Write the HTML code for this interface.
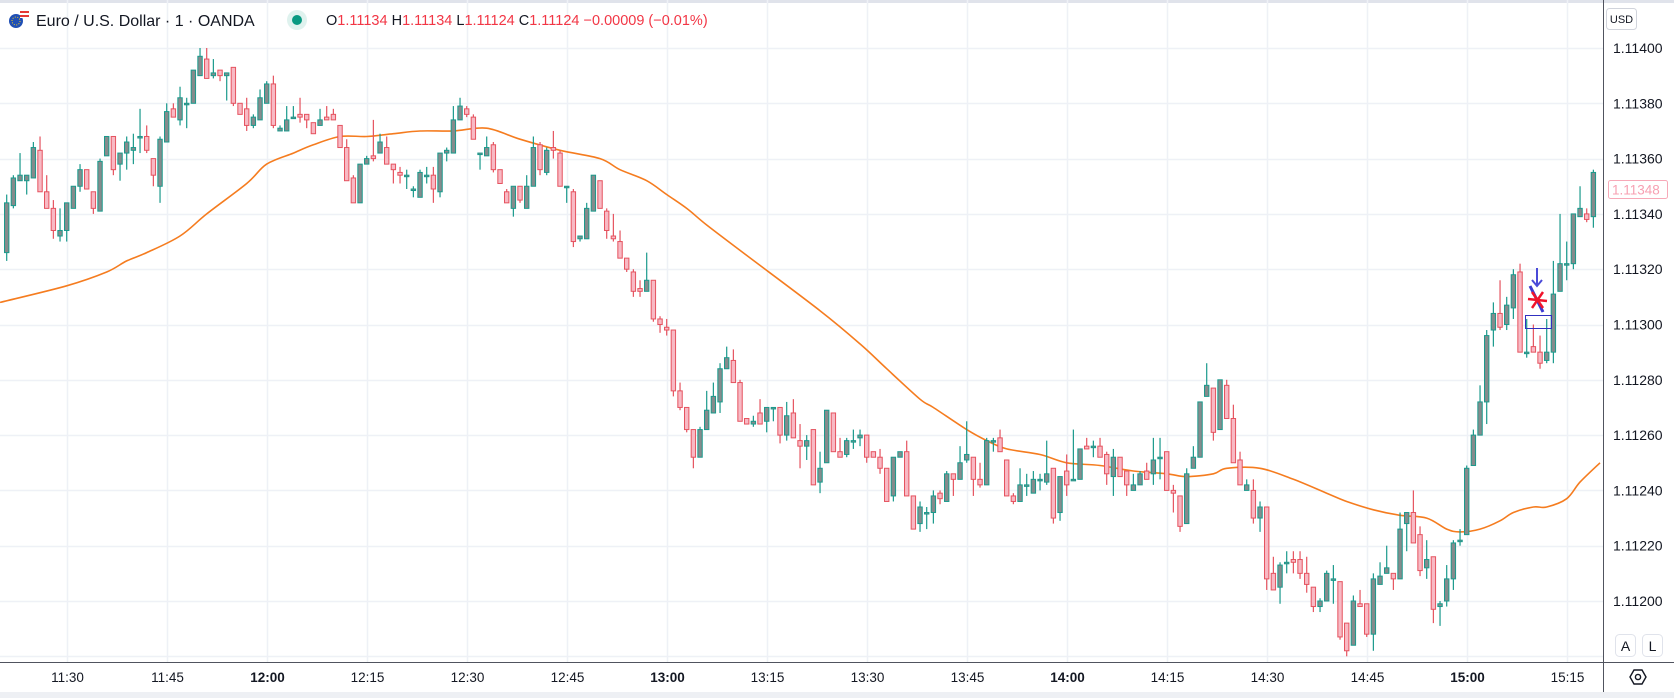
<!DOCTYPE html>
<html>
<head>
<meta charset="utf-8">
<style>
  html,body{margin:0;padding:0;background:#ffffff;}
  body{width:1674px;height:698px;overflow:hidden;font-family:"Liberation Sans",Arial,sans-serif;}
  svg{display:block;}
</style>
</head>
<body>
<svg id="chart" width="1674" height="698" viewBox="0 0 1674 698" xmlns="http://www.w3.org/2000/svg">
  <defs>
    <clipPath id="plotClip"><rect x="0" y="0" width="1603" height="662"/></clipPath>
  </defs>
  <rect x="0" y="0" width="1674" height="698" fill="#ffffff"/>
  <rect x="0" y="0" width="1674" height="3" fill="#e0e3eb"/>
  <g id="grid"></g>
  <g id="plot" clip-path="url(#plotClip)"></g>

  <g>
    <g>
      <circle cx="16" cy="21" r="7" fill="#1f4fb5"/>
      <rect x="20" y="11" width="9" height="7" fill="#ffffff"/>
      <rect x="20" y="11" width="9" height="2" fill="#e53935"/>
      <rect x="20" y="15" width="9" height="2" fill="#e53935"/>
      <circle cx="16" cy="21" r="4" fill="none" stroke="#f5d020" stroke-width="1" stroke-dasharray="1 1.5"/>
    </g>
    <text x="36" y="26" font-size="16" fill="#131722">Euro / U.S. Dollar · 1 · OANDA</text>
    <circle cx="297" cy="20" r="10" fill="#dff2ee"/>
    <circle cx="297" cy="20" r="5" fill="#089981"/>
    <text x="326" y="25" font-size="14.5" fill="#f23645"><tspan fill="#131722">O</tspan>1.11134 <tspan fill="#131722">H</tspan>1.11134 <tspan fill="#131722">L</tspan>1.11124 <tspan fill="#131722">C</tspan>1.11124 −0.00009 (−0.01%)</text>
  </g>

  <line x1="1603.5" y1="0" x2="1603.5" y2="698" stroke="#50535e" stroke-width="1"/>
  <line x1="0" y1="662.5" x2="1674" y2="662.5" stroke="#50535e" stroke-width="1"/>
  <rect x="0" y="692" width="1674" height="6" fill="#eef0f4"/>
  <g id="priceAxis"></g>
  <g id="timeAxis"></g>

  <g>
    <rect x="1606.5" y="8.5" width="30" height="21" rx="3" fill="#ffffff" stroke="#d1d4dc"/>
    <text x="1621.5" y="23" font-size="11" text-anchor="middle" fill="#131722">USD</text>
  </g>
  <g>
    <rect x="1608.5" y="180.5" width="59" height="18" rx="2" fill="#ffffff" stroke="#f7a9b8"/>
    <text x="1612" y="194.5" font-size="13.5" fill="#f7a0b2">1.11348</text>
  </g>
  <g>
    <rect x="1615.5" y="634.5" width="20" height="22" rx="4" fill="#ffffff" stroke="#e0e3eb"/>
    <text x="1625.5" y="651" font-size="14" text-anchor="middle" fill="#131722">A</text>
  </g>
  <g>
    <rect x="1642.5" y="634.5" width="20" height="22" rx="4" fill="#ffffff" stroke="#e0e3eb"/>
    <text x="1652.5" y="651" font-size="14" text-anchor="middle" fill="#131722">L</text>
  </g>
  <g>
    <polygon points="1630,677 1634,670 1642,670 1646,677 1642,684 1634,684" fill="none" stroke="#131722" stroke-width="1.4"/>
    <circle cx="1638" cy="677" r="2.6" fill="none" stroke="#131722" stroke-width="1.4"/>
  </g>

  <g>
    <g>
      <line x1="1537" y1="268" x2="1537" y2="285" stroke="#4a4ad8" stroke-width="2"/>
      <polyline points="1532,280 1537,286 1542,280" fill="none" stroke="#4a4ad8" stroke-width="2"/>
    </g>
    <line x1="1530" y1="286" x2="1543" y2="312" stroke="#3b3bd0" stroke-width="3"/>
    <g stroke="#f0142c" stroke-width="2.5">
      <line x1="1528" y1="299" x2="1547" y2="301"/>
      <line x1="1532" y1="292" x2="1543" y2="308"/>
      <line x1="1543" y1="292" x2="1532" y2="308"/>
    </g>
    <rect x="1525.5" y="315.5" width="26" height="13" fill="none" stroke="#3030c0" stroke-width="1"/>
  </g>
</svg>

<script>
const opens = [
1.11326,1.11343,1.11352,1.11352,1.11353,1.11363,1.11348,1.11342,1.11332,1.11334,
1.11342,1.11350,1.11356,1.11348,1.11341,1.11361,1.11368,1.11358,1.11362,1.11363,
1.11368,1.11368,1.11360,1.11350,1.11366,1.11378,1.11374,1.11380,1.11380,1.11390,
1.11396,1.11390,1.11392,1.11390,1.11393,1.11380,1.11378,1.11372,1.11374,1.11380,
1.11387,1.11370,1.11370,1.11375,1.11376,1.11376,1.11373,1.11372,1.11375,1.11376,
1.11372,1.11364,1.11353,1.11344,1.11358,1.11361,1.11362,1.11364,1.11358,1.11355,
1.11354,1.11349,1.11346,1.11354,1.11354,1.11348,1.11362,1.11362,1.11374,1.11378,
1.11375,1.11362,1.11361,1.11365,1.11356,1.11348,1.11342,1.11350,1.11342,1.11350,
1.11365,1.11355,1.11364,1.11362,1.11350,1.11348,1.11331,1.11331,1.11341,1.11352,
1.11341,1.11332,1.11330,1.11324,1.11319,1.11313,1.11312,1.11316,1.11302,1.11299,
1.11298,1.11276,1.11270,1.11262,1.11252,1.11262,1.11268,1.11272,1.11284,1.11287,
1.11279,1.11266,1.11264,1.11268,1.11265,1.11270,1.11270,1.11260,1.11268,1.11258,
1.11256,1.11262,1.11243,1.11250,1.11268,1.11254,1.11253,1.11258,1.11259,1.11260,
1.11254,1.11252,1.11248,1.11238,1.11252,1.11254,1.11238,1.11228,1.11232,1.11232,
1.11239,1.11236,1.11246,1.11244,1.11251,1.11252,1.11244,1.11242,1.11258,1.11259,
1.11251,1.11238,1.11236,1.11242,1.11239,1.11244,1.11243,1.11248,1.11232,1.11247,
1.11244,1.11244,1.11256,1.11256,1.11256,1.11253,1.11245,1.11252,1.11247,1.11240,
1.11242,1.11247,1.11246,1.11252,1.11254,1.11240,1.11238,1.11228,1.11248,1.11252,
1.11274,1.11277,1.11262,1.11278,1.11266,1.11251,1.11240,1.11240,1.11230,1.11234,
1.11210,1.11205,1.11214,1.11215,1.11215,1.11210,1.11205,1.11198,1.11200,1.11208,
1.11207,1.11192,1.11184,1.11199,1.11199,1.11188,1.11206,1.11210,1.11210,1.11208,
1.11228,1.11232,1.11224,1.11212,1.11216,1.11198,1.11200,1.11208,1.11222,1.11224,
1.11249,1.11260,1.11272,1.11298,1.11304,1.11300,1.11306,1.11319,1.11290,1.11292,
1.11290,1.11287,1.11290,1.11312,1.11322,1.11322,1.11339,1.11340,1.11339];
const highs = [
1.11347,1.11354,1.11362,1.11354,1.11366,1.11368,1.11354,1.11345,1.11342,1.11344,
1.11350,1.11358,1.11356,1.11348,1.11360,1.11368,1.11368,1.11362,1.11368,1.11369,
1.11378,1.11372,1.11360,1.11368,1.11380,1.11380,1.11386,1.11382,1.11392,1.11400,
1.11400,1.11396,1.11392,1.11391,1.11393,1.11380,1.11382,1.11376,1.11385,1.11388,
1.11390,1.11372,1.11379,1.11379,1.11382,1.11376,1.11373,1.11378,1.11379,1.11378,
1.11372,1.11367,1.11354,1.11358,1.11361,1.11374,1.11369,1.11368,1.11358,1.11357,
1.11356,1.11350,1.11356,1.11357,1.11357,1.11362,1.11364,1.11379,1.11382,1.11379,
1.11376,1.11362,1.11368,1.11366,1.11356,1.11349,1.11350,1.11350,1.11354,1.11368,
1.11366,1.11364,1.11370,1.11363,1.11350,1.11349,1.11332,1.11344,1.11354,1.11352,
1.11342,1.11340,1.11334,1.11324,1.11320,1.11316,1.11326,1.11316,1.11303,1.11302,
1.11298,1.11279,1.11270,1.11262,1.11263,1.11276,1.11279,1.11286,1.11292,1.11291,
1.11280,1.11266,1.11267,1.11273,1.11270,1.11270,1.11270,1.11272,1.11273,1.11264,
1.11260,1.11262,1.11254,1.11269,1.11268,1.11259,1.11259,1.11262,1.11262,1.11260,
1.11254,1.11255,1.11248,1.11252,1.11254,1.11258,1.11238,1.11236,1.11234,1.11240,
1.11240,1.11247,1.11246,1.11256,1.11265,1.11252,1.11250,1.11259,1.11259,1.11262,
1.11251,1.11239,1.11248,1.11246,1.11247,1.11246,1.11258,1.11248,1.11245,1.11253,
1.11262,1.11255,1.11259,1.11258,1.11259,1.11254,1.11255,1.11252,1.11247,1.11246,
1.11247,1.11250,1.11259,1.11259,1.11254,1.11242,1.11238,1.11248,1.11256,1.11272,
1.11286,1.11277,1.11280,1.11280,1.11271,1.11254,1.11244,1.11244,1.11236,1.11234,
1.11216,1.11214,1.11218,1.11218,1.11218,1.11216,1.11205,1.11201,1.11211,1.11213,
1.11207,1.11192,1.11202,1.11204,1.11199,1.11210,1.11214,1.11220,1.11210,1.11232,
1.11232,1.11240,1.11227,1.11222,1.11216,1.11200,1.11213,1.11222,1.11226,1.11249,
1.11262,1.11278,1.11298,1.11308,1.11316,1.11310,1.11320,1.11322,1.11302,1.11300,
1.11296,1.11302,1.11323,1.11340,1.11330,1.11340,1.11350,1.11342,1.11356];
const lows = [
1.11323,1.11342,1.11352,1.11347,1.11353,1.11348,1.11342,1.11331,1.11330,1.11330,
1.11342,1.11348,1.11349,1.11340,1.11341,1.11361,1.11354,1.11352,1.11356,1.11358,
1.11362,1.11362,1.11350,1.11344,1.11366,1.11375,1.11372,1.11371,1.11380,1.11390,
1.11389,1.11389,1.11388,1.11381,1.11379,1.11376,1.11370,1.11371,1.11374,1.11380,
1.11371,1.11370,1.11370,1.11375,1.11373,1.11371,1.11369,1.11372,1.11374,1.11374,
1.11364,1.11352,1.11344,1.11344,1.11358,1.11359,1.11362,1.11358,1.11351,1.11351,
1.11349,1.11346,1.11346,1.11351,1.11344,1.11346,1.11359,1.11362,1.11374,1.11375,
1.11367,1.11356,1.11361,1.11355,1.11351,1.11344,1.11339,1.11344,1.11342,1.11350,
1.11354,1.11354,1.11360,1.11350,1.11344,1.11328,1.11330,1.11331,1.11341,1.11342,
1.11331,1.11330,1.11324,1.11319,1.11310,1.11310,1.11312,1.11301,1.11297,1.11296,
1.11274,1.11269,1.11261,1.11248,1.11252,1.11262,1.11268,1.11268,1.11284,1.11279,
1.11265,1.11264,1.11263,1.11264,1.11261,1.11265,1.11257,1.11258,1.11259,1.11248,
1.11251,1.11242,1.11239,1.11250,1.11254,1.11252,1.11252,1.11255,1.11256,1.11250,
1.11252,1.11246,1.11236,1.11236,1.11252,1.11238,1.11226,1.11225,1.11226,1.11228,
1.11235,1.11236,1.11238,1.11244,1.11250,1.11238,1.11241,1.11242,1.11254,1.11254,
1.11238,1.11235,1.11236,1.11238,1.11239,1.11240,1.11242,1.11228,1.11229,1.11238,
1.11244,1.11244,1.11255,1.11252,1.11252,1.11242,1.11238,1.11245,1.11238,1.11240,
1.11242,1.11244,1.11242,1.11244,1.11240,1.11232,1.11225,1.11228,1.11248,1.11252,
1.11274,1.11258,1.11262,1.11266,1.11250,1.11242,1.11240,1.11228,1.11225,1.11204,
1.11204,1.11199,1.11210,1.11210,1.11208,1.11203,1.11196,1.11196,1.11200,1.11199,
1.11186,1.11180,1.11184,1.11198,1.11187,1.11182,1.11206,1.11210,1.11204,1.11208,
1.11218,1.11221,1.11209,1.11208,1.11192,1.11191,1.11198,1.11204,1.11220,1.11224,
1.11249,1.11260,1.11264,1.11292,1.11298,1.11298,1.11302,1.11290,1.11288,1.11290,
1.11284,1.11286,1.11286,1.11312,1.11316,1.11320,1.11339,1.11337,1.11335];
const closes = [
1.11344,1.11353,1.11354,1.11354,1.11364,1.11348,1.11342,1.11334,1.11334,1.11344,
1.11350,1.11356,1.11349,1.11342,1.11359,1.11368,1.11356,1.11362,1.11366,1.11364,
1.11368,1.11363,1.11354,1.11367,1.11377,1.11375,1.11382,1.11380,1.11392,1.11397,
1.11389,1.11391,1.11390,1.11391,1.11380,1.11376,1.11372,1.11375,1.11382,1.11387,
1.11372,1.11371,1.11374,1.11375,1.11375,1.11374,1.11369,1.11374,1.11374,1.11374,
1.11364,1.11352,1.11344,1.11358,1.11360,1.11360,1.11366,1.11358,1.11356,1.11354,
1.11354,1.11349,1.11355,1.11354,1.11349,1.11362,1.11363,1.11374,1.11379,1.11376,
1.11367,1.11362,1.11364,1.11356,1.11351,1.11344,1.11350,1.11345,1.11350,1.11364,
1.11356,1.11363,1.11363,1.11350,1.11350,1.11330,1.11332,1.11342,1.11354,1.11342,
1.11334,1.11331,1.11324,1.11320,1.11312,1.11312,1.11316,1.11302,1.11300,1.11298,
1.11276,1.11270,1.11262,1.11252,1.11262,1.11269,1.11274,1.11284,1.11288,1.11279,
1.11265,1.11264,1.11265,1.11264,1.11270,1.11270,1.11260,1.11267,1.11259,1.11256,
1.11258,1.11242,1.11248,1.11269,1.11254,1.11252,1.11258,1.11258,1.11260,1.11252,
1.11252,1.11248,1.11236,1.11252,1.11254,1.11238,1.11226,1.11234,1.11232,1.11238,
1.11237,1.11246,1.11244,1.11250,1.11253,1.11244,1.11242,1.11258,1.11258,1.11254,
1.11238,1.11236,1.11242,1.11242,1.11244,1.11244,1.11246,1.11230,1.11245,1.11242,
1.11244,1.11255,1.11255,1.11256,1.11252,1.11246,1.11252,1.11245,1.11242,1.11242,
1.11246,1.11244,1.11251,1.11252,1.11240,1.11239,1.11227,1.11246,1.11252,1.11272,
1.11278,1.11261,1.11280,1.11266,1.11250,1.11242,1.11242,1.11230,1.11234,1.11208,
1.11204,1.11213,1.11214,1.11214,1.11210,1.11206,1.11198,1.11200,1.11210,1.11208,
1.11187,1.11182,1.11200,1.11198,1.11188,1.11208,1.11209,1.11212,1.11208,1.11226,
1.11232,1.11221,1.11211,1.11215,1.11197,1.11199,1.11208,1.11221,1.11222,1.11248,
1.11260,1.11272,1.11296,1.11304,1.11299,1.11307,1.11318,1.11290,1.11290,1.11290,
1.11286,1.11290,1.11311,1.11322,1.11322,1.11340,1.11342,1.11338,1.11355];

const maIndex = [-1,9,15,18,21,26,30,36,39,43,46,50,54,58,62,67,72,77,83,89,92,96,99,102,105,111,122,128,132,137,139,144,147,150,155,159,164,169,174,177,181,183,188,193,198,201,205,209,213,216,218,221,224,226,229,231,234,236,239];
const maValues = [1.11308,1.11314,1.11319,1.11323,1.11326,1.11332,1.11340,1.11351,1.11358,1.11362,1.11365,1.11368,1.11368,1.11369,1.11370,1.11370,1.11371,1.11367,1.11363,1.11360,1.11356,1.11352,1.11347,1.11342,1.11336,1.11325,1.11305,1.11293,1.11284,1.11273,1.11270,1.11262,1.11258,1.11255,1.11253,1.11250,1.11249,1.11247,1.11246,1.11245,1.11246,1.11248,1.11248,1.11244,1.11239,1.11236,1.11233,1.11231,1.11230,1.11226,1.11225,1.11226,1.11229,1.11232,1.11234,1.11234,1.11237,1.11243,1.11250];

const priceTicks = [1.11400,1.11380,1.11360,1.11340,1.11320,1.11300,1.11280,1.11260,1.11240,1.11220,1.11200,1.11180];
const timeLabels = ["11:30","11:45","12:00","12:15","12:30","12:45","13:00","13:15","13:30","13:45","14:00","14:15","14:30","14:45","15:00","15:15"];
const timeLabelIndex = [9,24,39,54,69,84,99,114,129,144,159,174,189,204,219,234];
const boldLabels = ["12:00","13:00","14:00","15:00"];

const NS = "http://www.w3.org/2000/svg";
function xScale(i){ return 6.7 + i * 6.6667; }
function yScale(p){ return 601 - (p - 1.11200) * 276500; }
function mk(tag, attrs, parent){
  const e = document.createElementNS(NS, tag);
  for (const k in attrs) e.setAttribute(k, attrs[k]);
  parent.appendChild(e);
  return e;
}

const grid = document.getElementById('grid');
const plot = document.getElementById('plot');
const priceAxis = document.getElementById('priceAxis');
const timeAxis = document.getElementById('timeAxis');

priceTicks.forEach(p => {
  const y = Math.round(yScale(p)) + 0.5;
  const gl = mk('line', {x1:0, x2:1603, y1:y, y2:y, stroke:'#eef1f6', 'stroke-width':1.5}, grid);
  
  
  if (y < 650) {
    const t = mk('text', {x:1613, y:yScale(p)+5, 'font-size':14, fill:'#131722'}, priceAxis);
    t.textContent = p.toFixed(5);
    
    
  }
});
timeLabels.forEach((lab, k) => {
  const x = Math.round(xScale(timeLabelIndex[k])) + 0.5;
  const gl = mk('line', {x1:x, x2:x, y1:0, y2:662, stroke:'#eef1f6', 'stroke-width':1.5}, grid);
  
  
  const t = mk('text', {x:x, y:682, 'font-size':13.5, 'text-anchor':'middle', fill:'#131722', 'font-weight': boldLabels.includes(lab) ? 'bold' : 'normal'}, timeAxis);
  t.textContent = lab;
  
  
});

// smooth moving average (Catmull-Rom through sampled points)
const pts = maIndex.map((i, k) => [xScale(i), yScale(maValues[k])]);
let d = 'M' + pts[0][0].toFixed(1) + ' ' + pts[0][1].toFixed(1);
for (let k = 0; k < pts.length - 1; k++) {
  const p0 = pts[Math.max(0, k-1)], p1 = pts[k], p2 = pts[k+1], p3 = pts[Math.min(pts.length-1, k+2)];
  const c1x = p1[0] + (p2[0]-p0[0])/6, c1y = p1[1] + (p2[1]-p0[1])/6;
  const c2x = p2[0] - (p3[0]-p1[0])/6, c2y = p2[1] - (p3[1]-p1[1])/6;
  d += ' C' + c1x.toFixed(1) + ' ' + c1y.toFixed(1) + ' ' + c2x.toFixed(1) + ' ' + c2y.toFixed(1) + ' ' + p2[0].toFixed(1) + ' ' + p2[1].toFixed(1);
}
const ma = mk('path', {d:d, fill:'none', stroke:'#f57c1f', 'stroke-width':1.6, 'stroke-linejoin':'round'}, plot);



for (let i = 0; i < opens.length; i++) {
  const o = opens[i], h = highs[i], l = lows[i], c = closes[i];
  const up = c >= o;
  const edge = up ? '#1a9a8c' : '#e5535f';
  const fill = up ? '#858b8c' : '#f8b9c4';
  const x = xScale(i);
  const g = mk('g', {}, plot);
  
  
  const wick = mk('line', {x1:x, x2:x, y1:yScale(h), y2:yScale(l), stroke:edge, 'stroke-width':1.2}, g);
  
  
  const top = yScale(Math.max(o, c));
  const hgt = Math.max(1.5, yScale(Math.min(o, c)) - top);
  const body = mk('rect', {x:x-2.2, y:top, width:4.4, height:hgt, fill:fill, stroke:edge, 'stroke-width':1}, g);
  
  
}
</script>
</body>
</html>
